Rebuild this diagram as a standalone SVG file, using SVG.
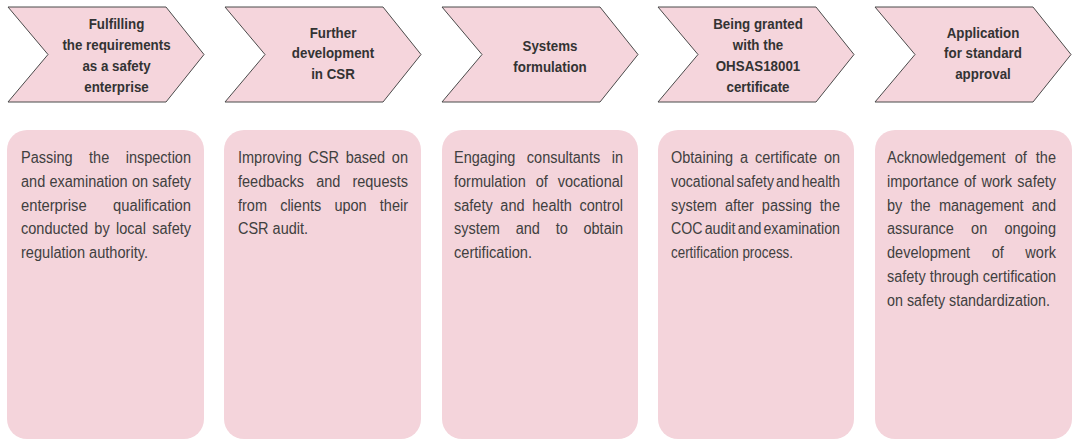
<svg xmlns="http://www.w3.org/2000/svg" width="1072" height="440" viewBox="0 0 1072 440">
<style>
.chev{fill:#f5d5dc;stroke:#4a4a4a;stroke-width:1;stroke-linejoin:miter}
.box{fill:#f4d4db}
.ct{font-family:"Liberation Sans",Arial,sans-serif;font-weight:bold;font-size:15px;fill:#333;text-anchor:middle}
.bt{font-family:"Liberation Sans",Arial,sans-serif;font-size:16px;fill:#404040}
</style>
<rect width="1072" height="440" fill="#ffffff"/>
<g id="connectors"></g>
<g id="step1">
<polygon class="chev" points="8,7 166,7 204,54.5 166,102 8,102 48,54.5"/>
<g class="ct" transform="translate(116.5,0) scale(0.89,1)">
<text x="0" y="29.5">Fulfilling</text>
<text x="0" y="50.5">the requirements</text>
<text x="0" y="71.5">as a safety</text>
<text x="0" y="92.5">enterprise</text>
</g>
<rect class="box" x="7" y="130" width="197" height="309" rx="20"/>
<g class="bt">
<text x="21" y="163" textLength="170" lengthAdjust="spacingAndGlyphs" word-spacing="13.7">Passing the inspection</text>
<text x="21" y="186.8" textLength="170" lengthAdjust="spacingAndGlyphs" word-spacing="0.25">and examination on safety</text>
<text x="21" y="210.6" textLength="170" lengthAdjust="spacingAndGlyphs" word-spacing="24.3">enterprise qualification</text>
<text x="21" y="234.4" textLength="170" lengthAdjust="spacingAndGlyphs" word-spacing="2.6">conducted by local safety</text>
<text x="21" y="258.2" textLength="127" lengthAdjust="spacingAndGlyphs">regulation authority.</text>
</g>
</g>
<g id="step2">
<polygon class="chev" points="225,7 383,7 421,54.5 383,102 225,102 265,54.5"/>
<g class="ct" transform="translate(333,0) scale(0.89,1)">
<text x="0" y="38">Further</text>
<text x="0" y="58.5">development</text>
<text x="0" y="79">in CSR</text>
</g>
<rect class="box" x="224" y="130" width="197" height="309" rx="20"/>
<g class="bt">
<text x="238" y="163" textLength="170" lengthAdjust="spacingAndGlyphs" word-spacing="2.9">Improving CSR based on</text>
<text x="238" y="186.8" textLength="170" lengthAdjust="spacingAndGlyphs" word-spacing="8.9">feedbacks and requests</text>
<text x="238" y="210.6" textLength="170" lengthAdjust="spacingAndGlyphs" word-spacing="10.1">from clients upon their</text>
<text x="238" y="234.4" textLength="70" lengthAdjust="spacingAndGlyphs">CSR audit.</text>
</g>
</g>
<g id="step3">
<polygon class="chev" points="442,7 600,7 638,54.5 600,102 442,102 482,54.5"/>
<g class="ct" transform="translate(550,0) scale(0.89,1)">
<text x="0" y="51">Systems</text>
<text x="0" y="72">formulation</text>
</g>
<rect class="box" x="442" y="130" width="196" height="309" rx="20"/>
<g class="bt">
<text x="454" y="163" textLength="169" lengthAdjust="spacingAndGlyphs" word-spacing="8.3">Engaging consultants in</text>
<text x="454" y="186.8" textLength="169" lengthAdjust="spacingAndGlyphs" word-spacing="6.5">formulation of vocational</text>
<text x="454" y="210.6" textLength="169" lengthAdjust="spacingAndGlyphs" word-spacing="4">safety and health control</text>
<text x="454" y="234.4" textLength="169" lengthAdjust="spacingAndGlyphs" word-spacing="12.9">system and to obtain</text>
<text x="454" y="258.2" textLength="78" lengthAdjust="spacingAndGlyphs">certification.</text>
</g>
</g>
<g id="step4">
<polygon class="chev" points="658,7 816,7 854,54.5 816,102 658,102 698,54.5"/>
<g class="ct" transform="translate(758,0) scale(0.89,1)">
<text x="0" y="29.5">Being granted</text>
<text x="0" y="50.5">with the</text>
<text x="0" y="71.5">OHSAS18001</text>
<text x="0" y="92.5">certificate</text>
</g>
<rect class="box" x="658" y="130" width="196" height="309" rx="20"/>
<g class="bt">
<text x="671" y="163" textLength="169" lengthAdjust="spacingAndGlyphs" word-spacing="3.2">Obtaining a certificate on</text>
<text x="671" y="186.8" textLength="169" lengthAdjust="spacingAndGlyphs" word-spacing="-2">vocational safety and health</text>
<text x="671" y="210.6" textLength="169" lengthAdjust="spacingAndGlyphs" word-spacing="4.3">system after passing the</text>
<text x="671" y="234.4" textLength="169" lengthAdjust="spacingAndGlyphs" word-spacing="-2">COC audit and examination</text>
<text x="671" y="258.2" textLength="122" lengthAdjust="spacingAndGlyphs">certification process.</text>
</g>
</g>
<g id="step5">
<polygon class="chev" points="875,7 1033,7 1071,54.5 1033,102 875,102 915,54.5"/>
<g class="ct" transform="translate(983,0) scale(0.89,1)">
<text x="0" y="38">Application</text>
<text x="0" y="58.5">for standard</text>
<text x="0" y="79">approval</text>
</g>
<rect class="box" x="875" y="130" width="197" height="309" rx="20"/>
<g class="bt">
<text x="887" y="163" textLength="169" lengthAdjust="spacingAndGlyphs" word-spacing="5.6">Acknowledgement of the</text>
<text x="887" y="186.8" textLength="169" lengthAdjust="spacingAndGlyphs" word-spacing="1.4">importance of work safety</text>
<text x="887" y="210.6" textLength="169" lengthAdjust="spacingAndGlyphs" word-spacing="4.6">by the management and</text>
<text x="887" y="234.4" textLength="169" lengthAdjust="spacingAndGlyphs" word-spacing="14.5">assurance on ongoing</text>
<text x="887" y="258.2" textLength="169" lengthAdjust="spacingAndGlyphs" word-spacing="19.4">development of work</text>
<text x="887" y="282" textLength="169" lengthAdjust="spacingAndGlyphs" word-spacing="0">safety through certification</text>
<text x="887" y="305.8" textLength="163" lengthAdjust="spacingAndGlyphs">on safety standardization.</text>
</g>
</g>
</svg>
